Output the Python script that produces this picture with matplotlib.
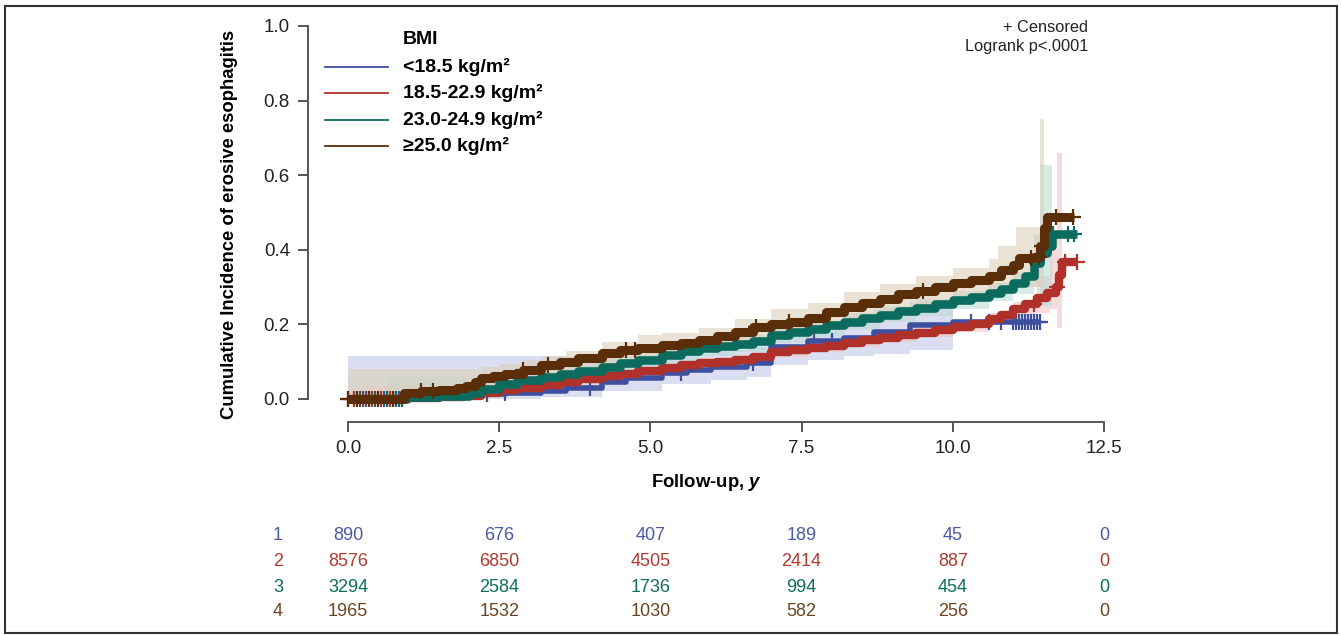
import numpy as np
import matplotlib.pyplot as plt
from matplotlib.lines import Line2D
from matplotlib.patches import Rectangle
import matplotlib.transforms as mtransforms

plt.rcParams['font.family'] = ['Liberation Sans', 'DejaVu Sans']
plt.rcParams['mathtext.fontset'] = 'custom'
plt.rcParams['mathtext.it'] = 'Liberation Sans:italic:bold'
plt.rcParams['mathtext.rm'] = 'Liberation Sans:bold'

# groups
labels = ['<18.5 kg/m²', '18.5-22.9 kg/m²', '23.0-24.9 kg/m²', '≥25.0 kg/m²']
colors = ['#3f4f9f', '#b0302a', '#0b6b5f', '#5b2e0a']
text_colors = ['#4a5ba5', '#b03a30', '#0d6e60', '#6b4420']
band_colors = ['#c3c8e6', '#efc4c4', '#bcdcd6', '#dccfb9']

# cumulative incidence step curves
t1 = [0.0, 0.97, 1.5, 2.2, 2.6, 3.2, 3.6, 4.2, 4.6, 5.2, 5.6, 6.0, 6.6, 7.0, 7.6, 8.2, 8.7, 9.3, 10.0, 11.45]
ci1 = [0.0, 0.004, 0.008, 0.014, 0.016, 0.02, 0.03, 0.044, 0.055, 0.07, 0.078, 0.085, 0.097, 0.14, 0.155,
       0.163, 0.18, 0.198, 0.206, 0.206]
bt1 = [0.0, 2.3, 3.2, 4.2, 5.2, 6.0, 6.6, 7.0, 7.6, 8.2, 8.7, 9.3, 10.0]
lo1 = [0.0, 0.0, 0.004, 0.02, 0.04, 0.05, 0.06, 0.09, 0.105, 0.115, 0.12, 0.13, 0.13]
hi1 = [0.115, 0.115, 0.115, 0.115, 0.12, 0.13, 0.14, 0.19, 0.21, 0.22, 0.24, 0.26, 0.26]

t2 = [0.0, 0.97, 1.5, 1.9, 2.2, 2.5, 2.8, 3.2, 3.5, 3.8, 4.2, 4.5, 4.8, 5.2, 5.5, 5.8, 6.1, 6.4, 6.7, 7.0,
      7.3, 7.6, 7.9, 8.2, 8.5, 8.8, 9.1, 9.4, 9.7, 10.0, 10.3, 10.6, 10.8, 11.0, 11.2, 11.4, 11.55, 11.7,
      11.75, 11.8, 12.05]
ci2 = [0.0, 0.002, 0.004, 0.008, 0.016, 0.024, 0.03, 0.037, 0.044, 0.052, 0.062, 0.068, 0.075, 0.083, 0.09,
       0.097, 0.1, 0.105, 0.112, 0.125, 0.132, 0.137, 0.143, 0.15, 0.157, 0.164, 0.17, 0.178, 0.186, 0.193,
       0.2, 0.215, 0.225, 0.24, 0.255, 0.27, 0.285, 0.30, 0.332, 0.367, 0.367]
bt2 = [0.0, 0.3, 1.0, 1.5, 2.2, 2.5, 2.9, 3.2, 3.6, 4.2, 4.8, 5.2, 5.8, 6.4, 7.0, 7.6, 8.2, 8.8, 9.4, 10.0,
       10.6, 11.0, 11.4, 11.6, 11.72, 11.8]
lo2 = [0.0, 0.0, 0.0, 0.0, 0.006, 0.013, 0.02, 0.027, 0.035, 0.05, 0.063, 0.071, 0.085, 0.094, 0.113, 0.125,
       0.138, 0.152, 0.166, 0.18, 0.2, 0.225, 0.23, 0.24, 0.19, 0.19]
hi2 = [0.0, 0.035, 0.035, 0.015, 0.026, 0.035, 0.042, 0.048, 0.056, 0.074, 0.088, 0.095, 0.11, 0.118, 0.138,
       0.15, 0.162, 0.178, 0.19, 0.206, 0.23, 0.26, 0.33, 0.40, 0.66, 0.66]

t3 = [0.0, 0.97, 1.5, 2.0, 2.2, 2.5, 2.8, 3.2, 3.5, 3.8, 4.2, 4.5, 4.8, 5.2, 5.5, 5.8, 6.1, 6.4, 6.7, 7.0,
      7.3, 7.6, 7.9, 8.2, 8.5, 8.8, 9.1, 9.4, 9.7, 10.0, 10.3, 10.6, 10.8, 11.0, 11.2, 11.35, 11.45, 11.55,
      11.64, 12.05]
ci3 = [0.0, 0.005, 0.008, 0.015, 0.027, 0.04, 0.05, 0.06, 0.068, 0.076, 0.086, 0.095, 0.105, 0.118, 0.128,
       0.137, 0.143, 0.148, 0.155, 0.17, 0.18, 0.188, 0.197, 0.207, 0.216, 0.225, 0.235, 0.244, 0.255, 0.265,
       0.274, 0.285, 0.295, 0.31, 0.33, 0.365, 0.39, 0.41, 0.442, 0.442]
bt3 = [0.0, 0.66, 1.9, 2.2, 2.5, 2.9, 3.2, 3.6, 4.2, 4.8, 5.2, 5.8, 6.4, 7.0, 7.6, 8.2, 8.8, 9.4, 10.0, 10.6,
       11.0, 11.35, 11.45, 11.64]
lo3 = [0.0, 0.0, 0.0, 0.008, 0.02, 0.03, 0.04, 0.05, 0.066, 0.083, 0.096, 0.115, 0.127, 0.15, 0.167, 0.186,
       0.205, 0.223, 0.242, 0.262, 0.28, 0.30, 0.25, 0.25]
hi3 = [0.0, 0.058, 0.058, 0.048, 0.06, 0.07, 0.08, 0.092, 0.107, 0.127, 0.14, 0.16, 0.17, 0.192, 0.21, 0.23,
       0.25, 0.268, 0.29, 0.31, 0.34, 0.44, 0.627, 0.627]

t4 = [0.0, 0.93, 1.2, 1.5, 1.8, 1.95, 2.1, 2.2, 2.4, 2.6, 2.9, 3.2, 3.5, 3.8, 4.2, 4.5, 4.8, 5.2, 5.5, 5.8,
      6.1, 6.4, 6.7, 7.0, 7.3, 7.6, 7.9, 8.2, 8.5, 8.8, 9.1, 9.4, 9.7, 10.0, 10.3, 10.6, 10.8, 11.0, 11.1,
      11.35, 11.45, 11.5, 11.55, 12.0]
ci4 = [0.0, 0.015, 0.02, 0.024, 0.028, 0.035, 0.045, 0.056, 0.062, 0.068, 0.078, 0.09, 0.1, 0.11, 0.123,
       0.13, 0.137, 0.145, 0.15, 0.158, 0.168, 0.18, 0.192, 0.2, 0.207, 0.218, 0.232, 0.247, 0.258, 0.268,
       0.28, 0.29, 0.3, 0.31, 0.318, 0.33, 0.346, 0.36, 0.378, 0.38, 0.41, 0.458, 0.488, 0.488]
bt4 = [0.0, 2.0, 2.2, 2.5, 2.9, 3.2, 3.6, 4.2, 4.8, 5.2, 5.8, 6.4, 7.0, 7.6, 8.2, 8.8, 9.4, 10.0, 10.6, 10.75,
       11.05, 11.44, 11.5]
lo4 = [0.0, 0.012, 0.03, 0.045, 0.055, 0.066, 0.078, 0.093, 0.105, 0.115, 0.128, 0.15, 0.17, 0.185, 0.21,
       0.23, 0.252, 0.27, 0.29, 0.30, 0.30, 0.30, 0.30]
hi4 = [0.08, 0.08, 0.085, 0.094, 0.104, 0.116, 0.128, 0.152, 0.17, 0.178, 0.19, 0.215, 0.24, 0.258, 0.287,
       0.308, 0.33, 0.352, 0.375, 0.41, 0.46, 0.75, 0.75]

# censored times
cens1 = [0.3, 0.6, 0.85, 2.3, 2.6, 4.0, 5.5, 6.7, 7.7, 8.0, 10.3, 10.6, 10.8, 11.0, 11.05, 11.1, 11.15, 11.2,
         11.25, 11.3, 11.35, 11.4, 11.45]
cens2 = [0.0, 0.1, 0.25, 0.4, 0.55, 0.7, 11.35, 11.72, 11.85, 12.05]
cens3 = [0.2, 0.45, 0.65, 0.8, 0.9, 11.4, 11.5, 11.65, 11.9, 12.0]
cens4 = [0.0, 0.15, 0.35, 0.5, 0.75, 1.2, 1.4, 2.9, 3.3, 4.6, 4.75, 6.75, 7.3, 9.5, 11.3, 11.42, 11.48, 11.7,
         11.98]

# numbers at risk
risk_times = [0.0, 2.5, 5.0, 7.5, 10.0, 12.5]
risk1 = [890, 676, 407, 189, 45, 0]
risk2 = [8576, 6850, 4505, 2414, 887, 0]
risk3 = [3294, 2584, 1736, 994, 454, 0]
risk4 = [1965, 1532, 1030, 582, 256, 0]

curves = [(t1, ci1), (t2, ci2), (t3, ci3), (t4, ci4)]
bands = [(bt1, lo1, hi1), (bt2, lo2, hi2), (bt3, lo3, hi3), (bt4, lo4, hi4)]
censors = [cens1, cens2, cens3, cens4]
risks = [risk1, risk2, risk3, risk4]
widths = [4.0, 6.0, 6.2, 6.5]

W, H = 1341, 635
fig = plt.figure(figsize=(W / 100, H / 100), dpi=100)
ax = fig.add_axes([308 / W, 1 - 422 / H, (1104 - 308) / W, (422 - 26) / H])
ax.set_xlim(-0.66, 12.5)
ax.set_ylim(-0.062, 1.0)

for (bt, lo, hi), bc in zip(bands, band_colors):
    ax.fill_between(bt, lo, hi, step='post', color=bc, alpha=0.6, lw=0)

for i in range(4):
    t, ci = curves[i]
    ax.step(t, ci, where='post', color=colors[i], lw=widths[i], solid_capstyle='butt', clip_on=False)
    ct = np.array(censors[i])
    idx = np.searchsorted(t, ct, side='right') - 1
    cy = np.array(ci)[idx]
    ax.plot(ct, cy, ls='none', marker='+', ms=11, mew=1.6, color=colors[i], clip_on=False)

for s in ['top', 'right']:
    ax.spines[s].set_visible(False)
for s in ['left', 'bottom']:
    ax.spines[s].set_color('#555555')
    ax.spines[s].set_linewidth(1.4)
ax.spines['left'].set_bounds(0, 1.0)
ax.spines['bottom'].set_bounds(0, 12.5)
ax.set_yticks([0.0, 0.2, 0.4, 0.6, 0.8, 1.0])
ax.set_yticklabels(['0.0', '0.2', '0.4', '0.6', '0.8', '1.0'])
ax.set_xticks(risk_times)
ax.set_xticklabels(['0.0', '2.5', '5.0', '7.5', '10.0', '12.5'])
ax.tick_params(length=7, width=1.4, color='#555555', labelsize=13.5, labelcolor='#222222', pad=6)

ax.set_ylabel('Cumulative Incidence of erosive esophagitis', fontsize=13.3, fontweight='bold')
ax.yaxis.set_label_coords(-0.088, 0.5)
ax.set_xlabel(r'Follow-up, $y$', fontsize=13.3, fontweight='bold')
ax.xaxis.set_label_coords(0.5, -0.127)

# legend
fig.text(403 / W, 1 - 40 / H, 'BMI', fontsize=14, fontweight='bold', ha='left', va='center')
leg_y = [67, 93, 120, 146]
for i in range(4):
    fig.add_artist(Line2D([325 / W, 388 / W], [1 - leg_y[i] / H, 1 - leg_y[i] / H],
                          transform=fig.transFigure, color=colors[i], lw=1.3))
    fig.text(403 / W, 1 - leg_y[i] / H, labels[i], fontsize=14, fontweight='bold', ha='left', va='center')

fig.text(1088 / W, 1 - 28 / H, '+ Censored', fontsize=11.8, ha='right', va='center', color='#222222')
fig.text(1088 / W, 1 - 47 / H, 'Logrank p<.0001', fontsize=11.8, ha='right', va='center', color='#222222')

# risk table
trans = mtransforms.blended_transform_factory(ax.transData, fig.transFigure)
row_y = [535, 561, 587, 612]
for i in range(4):
    fig.text(278 / W, 1 - row_y[i] / H, str(i + 1), fontsize=13, color=text_colors[i], ha='center', va='center')
    for xt, n in zip(risk_times, risks[i]):
        ax.text(xt, 1 - row_y[i] / H, str(n), transform=trans, fontsize=13, color=text_colors[i],
                ha='center', va='center', clip_on=False)

fig.patches.append(Rectangle((5 / W, 2 / H), (1337 - 5) / W, (631 - 4) / H, transform=fig.transFigure,
                             fill=False, edgecolor='#333333', lw=1.5))

fig.savefig('out.png', dpi=100)
